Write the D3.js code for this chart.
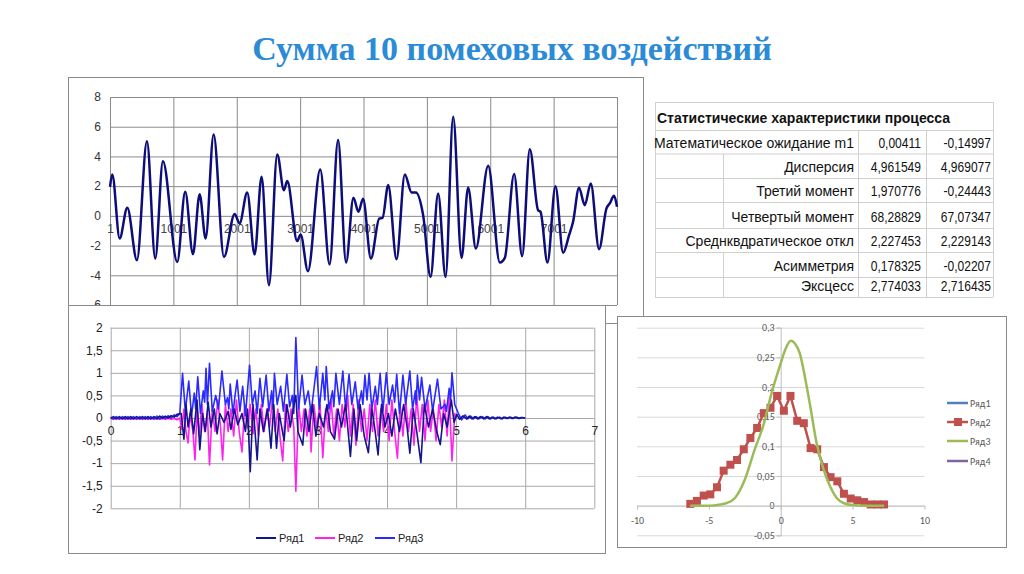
<!DOCTYPE html>
<html>
<head>
<meta charset="utf-8">
<script src="https://cdn.jsdelivr.net/npm/d3@7"></script>
<style>
body { margin: 0; background: #fff; }
svg { display: block; }
</style>
</head>
<body>
<svg id="chart" width="1024" height="574"></svg>
<script>
// ---- данные ----
const title = 'Сумма 10 помеховых воздействий';

// верхний график: суммарный процесс (экстремумы)
const topX = [1, 37, 153, 274, 426, 584, 715, 836, 1062, 1188, 1310, 1415, 1510, 1636, 1799, 1968, 2046, 2166, 2283, 2393,
  2509, 2640, 2745, 2798, 2955, 3009, 3124, 3318, 3466, 3600, 3726, 3842, 3921, 3994, 4118, 4249, 4302, 4391, 4522, 4653,
  4759, 4827, 4942, 5059, 5179, 5296, 5416, 5548, 5652, 5774, 5968, 6152, 6231, 6378, 6504, 6625, 6756, 6794, 6904, 7030,
  7151, 7245, 7308, 7402, 7492, 7587, 7718, 7835, 7887, 7955, 8001];
const topY = [1.95, 2.79, -1.52, 0.54, -2.98, 5.03, -2.87, 3.68, -3.10, 1.62, -2.58, 1.46, -1.52, 5.48, -2.76, 0.13, -0.51, 1.58, -2.60, 2.63,
  -4.67, 4.13, 1.73, 2.34, -1.70, -1.25, -3.72, 3.12, -3.27, 5.10, -3.14, 1.22, 0.27, 1.15, -2.87, -0.18, -0.13, 2.07, -2.92, 2.79,
  1.58, 1.58, 0.05, -4.11, 1.51, -4.11, 6.67, -2.83, 1.91, -2.20, 3.37, -3.14, -2.83, 2.81, -2.71, 4.49, 0.38, 0.27, -3.14, 2.0,
  -2.49, -1.30, -0.40, 1.89, 0.72, 2.18, -2.24, 0.50, 0.84, 1.35, 0.61];
const topXTicks = [1, 1001, 2001, 3001, 4001, 5001, 6001, 7001];
const topYTicks = [-6, -4, -2, 0, 2, 4, 6, 8];

// таблица
const tableTitle = 'Статистические характеристики процесса';
const tableLabels = ['Математическое ожидание m1', 'Дисперсия', 'Третий момент', 'Четвертый момент',
  'Среднквдратическое откл', 'Асимметрия', 'Эксцесс'];
const tableCol1 = ['0,00411', '4,961549', '1,970776', '68,28829', '2,227453', '0,178325', '2,774033'];
const tableCol2 = ['-0,14997', '4,969077', '-0,24443', '67,07347', '2,229143', '-0,02207', '2,716435'];

// нижний левый график
const blNames = ['Ряд1', 'Ряд2', 'Ряд3'];
const blColors = ['#14148c', '#ff22ee', '#2a2aff'];
const r1Pts = [[0,-0.01],[0.04,0.03],[0.08,-0.02],[0.125,0.03],[0.17,-0.02],[0.21,0.03],[0.25,-0.02],[0.29,0.03],[0.33,-0.02],[0.375,0.03],
  [0.42,-0.02],[0.46,0.03],[0.5,-0.02],[0.54,0.03],[0.58,-0.02],[0.625,0.03],[0.67,-0.02],[0.71,0.04],[0.75,-0.01],[0.79,0.04],
  [0.83,0],[0.875,0.05],[0.92,0.02],[0.96,0.08],[1.02,0.1],[1.06,-0.47],[1.09,0.3],[1.12,-0.2],[1.16,0.2],[1.2,-0.35],
  [1.25,0.4],[1.29,-0.7],[1.33,0.1],[1.37,-0.3],[1.41,0.35],[1.45,-0.2],[1.5,0.2],[1.54,-0.35],[1.58,0.1],[1.64,-0.1],
  [1.7,0.15],[1.74,-0.25],[1.79,0.2],[1.84,-0.15],[1.9,0.1],[1.95,-0.3],[1.98,0.2],[2.02,-1.19],[2.06,0.3],[2.12,-0.93],
  [2.16,0.2],[2.21,-0.3],[2.27,0.2],[2.32,-0.67],[2.36,0.3],[2.4,-0.67],[2.44,0.1],[2.51,-0.5],[2.55,0.3],[2.6,-0.2],
  [2.64,0.2],[2.68,0.5],[2.71,-0.3],[2.78,-0.6],[2.82,0.2],[2.87,-0.3],[2.92,0.3],[2.97,-0.4],[3.02,0.1],[3.08,-0.2],
  [3.13,0.3],[3.18,-0.3],[3.24,-0.47],[3.29,0.2],[3.34,-0.2],[3.4,0.3],[3.47,-0.85],[3.52,0.2],[3.56,-0.5],[3.61,0.3],
  [3.67,-0.4],[3.73,-0.77],[3.78,0.2],[3.82,-0.2],[3.87,-0.82],[3.92,0.3],[3.97,-0.2],[4.02,0.1],[4.07,-0.4],[4.12,0.2],
  [4.18,-0.3],[4.24,0.3],[4.29,-0.2],[4.33,-0.78],[4.38,0.2],[4.43,-0.3],[4.49,-0.99],[4.54,0.3],[4.6,-0.2],[4.66,0.2],
  [4.72,-0.3],[4.77,-0.59],[4.82,0.1],[4.87,-0.2],[4.93,0.4],[4.97,-0.1],[5.01,0.08],[5.05,-0.03],[5.1,0.05],[5.15,-0.02],
  [5.19,0.04],[5.23,-0.02],[5.27,0.03],[5.31,-0.02],[5.35,0.03],[5.4,-0.02],[5.44,0.03],[5.48,-0.02],[5.52,0.02],[5.56,-0.02],
  [5.6,0.02],[5.65,-0.02],[5.69,0.02],[5.73,-0.01],[5.77,0.02],[5.81,-0.01],[5.85,0.02],[5.9,-0.01],[5.94,0.01],[6.0,0]];
const r2Pts = [[0,-0.01],[0.04,-0.03],[0.08,-0.01],[0.125,-0.03],[0.17,-0.01],[0.21,-0.03],[0.25,-0.01],[0.29,-0.03],[0.33,-0.01],[0.375,-0.03],
  [0.42,-0.01],[0.46,-0.03],[0.5,-0.01],[0.54,-0.03],[0.58,-0.01],[0.625,-0.03],[0.67,-0.01],[0.71,-0.03],[0.75,-0.01],[0.79,-0.03],
  [0.83,-0.01],[0.875,-0.03],[0.92,-0.01],[0.96,-0.04],[1.0,0],[1.03,-0.25],[1.06,0.2],[1.09,-0.3],[1.12,-0.55],[1.15,0.1],
  [1.19,-0.3],[1.22,-0.93],[1.25,0.2],[1.28,-0.4],[1.32,0.3],[1.36,-0.3],[1.4,0.1],[1.43,-1.04],[1.47,0.2],[1.51,-0.3],
  [1.55,0.4],[1.59,-0.2],[1.62,-0.93],[1.66,0.3],[1.7,-0.3],[1.74,0.2],[1.78,-0.4],[1.82,0.4],[1.86,-0.3],[1.9,-0.75],
  [1.94,0.3],[1.98,-0.2],[2.02,0.3],[2.06,-0.35],[2.1,0.2],[2.14,-0.4],[2.18,0.3],[2.22,-0.3],[2.26,0.2],[2.3,-0.2],
  [2.34,0.4],[2.38,-0.3],[2.42,0.2],[2.45,-0.4],[2.49,-0.95],[2.53,0.3],[2.57,-0.3],[2.61,0.2],[2.65,-0.2],[2.68,-1.62],
  [2.72,0.3],[2.76,-0.3],[2.8,0.2],[2.84,-0.4],[2.88,0.2],[2.9,-0.75],[2.94,0.3],[2.98,-0.2],[3.03,0.3],[3.07,-0.88],
  [3.11,0.2],[3.15,-0.3],[3.19,0.4],[3.23,-0.4],[3.27,0.2],[3.31,-0.5],[3.35,0.3],[3.39,-0.2],[3.43,0.5],[3.47,-0.4],
  [3.51,0.3],[3.55,-0.6],[3.59,0.4],[3.63,-0.3],[3.67,0.2],[3.71,-0.5],[3.75,0.3],[3.79,-0.3],[3.83,0.4],[3.87,-0.4],
  [3.91,0.2],[3.95,-0.3],[3.99,0.3],[4.03,-0.5],[4.07,0.4],[4.11,-0.3],[4.15,-0.89],[4.19,0.3],[4.23,-0.4],[4.27,0.4],
  [4.31,-0.3],[4.35,0.2],[4.39,-0.6],[4.43,0.5],[4.47,-0.3],[4.51,0.3],[4.55,-0.5],[4.59,0.4],[4.63,-0.3],[4.67,0.2],
  [4.71,-0.5],[4.75,0.3],[4.79,-0.2],[4.83,0.4],[4.87,-0.4],[4.9,0.5],[4.94,-0.95],[4.98,0.1],[5.0,0]];
const r3Pts = [[0,0.02],[0.04,-0.02],[0.08,0.03],[0.125,-0.02],[0.17,0.03],[0.21,-0.02],[0.25,0.03],[0.29,-0.02],[0.33,0.03],[0.375,-0.02],
  [0.42,0.03],[0.46,-0.02],[0.5,0.03],[0.54,-0.02],[0.58,0.03],[0.625,-0.02],[0.67,0.04],[0.71,-0.02],[0.75,0.04],[0.79,-0.01],
  [0.83,0.05],[0.875,0],[0.92,0.07],[0.96,0.03],[1.0,0.1],[1.04,0.99],[1.08,0.15],[1.13,0.82],[1.17,0.05],[1.21,0.55],
  [1.23,0.2],[1.26,0.91],[1.3,0.1],[1.34,0.6],[1.36,0.35],[1.38,1.1],[1.4,0.3],[1.43,1.21],[1.47,0.15],[1.52,0.5],
  [1.56,0.2],[1.61,1.04],[1.66,0.3],[1.69,0.45],[1.71,0.2],[1.73,0.75],[1.77,0.1],[1.8,0.5],[1.83,0.84],[1.87,0.15],
  [1.91,0.7],[1.95,0.05],[2.01,1.17],[2.05,0.3],[2.09,0.6],[2.12,0.1],[2.16,0.88],[2.2,0.25],[2.25,0.95],[2.29,0.15],
  [2.33,0.6],[2.35,0.2],[2.37,0.99],[2.41,0.3],[2.46,0.7],[2.5,0.15],[2.55,0.97],[2.59,0.25],[2.63,0.5],[2.65,0.1],
  [2.68,1.78],[2.72,0.2],[2.77,0.95],[2.81,0.3],[2.86,0.6],[2.9,0.1],[2.98,1.14],[3.02,0.2],[3.07,0.99],[3.1,0.4],
  [3.12,1.14],[3.16,0.2],[3.21,0.6],[3.23,0.25],[3.26,0.99],[3.31,0.3],[3.36,1.04],[3.4,0.2],[3.45,0.97],[3.49,0.3],
  [3.54,0.8],[3.58,0.2],[3.63,0.6],[3.65,0.3],[3.68,0.95],[3.71,0.4],[3.74,0.99],[3.78,0.2],[3.83,0.7],[3.86,0.3],
  [3.9,0.99],[3.94,0.15],[3.99,1.0],[4.03,0.3],[4.08,0.73],[4.11,0.35],[4.14,0.97],[4.18,0.1],[4.23,0.95],[4.27,0.3],
  [4.33,1.04],[4.37,0.2],[4.41,0.6],[4.42,0.3],[4.44,0.95],[4.47,0.4],[4.5,0.9],[4.55,0.2],[4.62,0.73],[4.66,0.15],
  [4.73,0.86],[4.78,0.2],[4.84,0.3],[4.86,0.15],[4.9,0.66],[4.92,0.4],[4.94,1.0],[4.98,0.3],[5.03,0.11],[5.08,-0.04],
  [5.13,0.07],[5.17,-0.02],[5.21,0.04],[5.25,-0.02],[5.29,0.03],[5.33,-0.02],[5.38,0.03],[5.42,-0.02],[5.46,0.03],[5.5,-0.02],
  [5.54,0.02],[5.58,-0.02],[5.63,0.02],[5.67,-0.02],[5.71,0.02],[5.75,-0.01],[5.79,0.02],[5.83,-0.01],[5.88,0.02],[5.92,-0.01],
  [5.96,0.01],[6.0,0]];
const blXTicks = [0, 1, 2, 3, 4, 5, 6, 7];
const blYTicks = [-2, -1.5, -1, -0.5, 0, 0.5, 1, 1.5, 2];

// нижний правый график: гистограмма и нормальная кривая
const histX = [-6.29, -5.83, -5.36, -4.90, -4.43, -3.97, -3.50, -3.04, -2.57, -2.11, -1.64, -1.18, -0.71, -0.25, 0.22,
  0.68, 1.15, 1.61, 2.08, 2.54, 3.01, 3.47, 3.94, 4.40, 4.87, 5.33, 5.80, 6.26, 6.73, 7.19];
const histY = [0.003, 0.008, 0.017, 0.019, 0.031, 0.059, 0.069, 0.077, 0.095, 0.114, 0.131, 0.156, 0.165, 0.185, 0.160,
  0.185, 0.143, 0.139, 0.097, 0.095, 0.065, 0.048, 0.041, 0.020, 0.012, 0.009, 0.006, 0.002, 0.002, 0.002];
const normX = [-6.3, -5, -4.2, -3.8, -3.18, -2.48, -1.79, -1.21, -0.63, 0, 0.35, 0.7, 1.0, 1.34, 1.7, 2.04, 2.5, 2.97,
  3.45, 3.9, 4.4, 5, 6, 7.2];
const normY = [0, 0, 0.002, 0.004, 0.013, 0.045, 0.096, 0.135, 0.19, 0.24, 0.265, 0.278, 0.273, 0.256, 0.215, 0.17,
  0.105, 0.062, 0.032, 0.013, 0.004, 0.001, 0, 0];
const brXTicks = [-10, -5, 0, 5, 10];
const brYTicks = [-0.05, 0, 0.05, 0.1, 0.15, 0.2, 0.25, 0.3];
const brNames = ['Ряд1', 'Ряд2', 'Ряд3', 'Ряд4'];
const brColors = ['#4f81bd', '#c0504d', '#9bbb59', '#8064a2'];

const comma = d => String(d).replace('.', ',');
const svg = d3.select('#chart');
const arial = 'Liberation Sans, Arial, sans-serif';

// ---- заголовок ----
svg.append('text')
  .attr('x', 512).attr('y', 60)
  .attr('text-anchor', 'middle')
  .attr('font-family', 'Liberation Serif, Times New Roman, serif')
  .attr('font-weight', 'bold')
  .attr('font-size', 34)
  .attr('fill', '#2c8bd6')
  .text(title);

// ---- верхний график ----
const gTop = svg.append('g');
gTop.append('rect')
  .attr('x', 68.5).attr('y', 77.5).attr('width', 575).attr('height', 246)
  .attr('fill', '#fff').attr('stroke', '#8a8a8a');

const tx = d3.scaleLinear().domain([1, 8001]).range([110, 617]);
const ty = d3.scaleLinear().domain([-6, 8]).range([305, 97]);

const topGridY = gTop.append('g')
  .attr('transform', 'translate(110,0)')
  .call(d3.axisLeft(ty).tickValues(topYTicks).tickSize(-(617 - 110)).tickPadding(9).tickFormat(comma));
const topGridX = gTop.append('g')
  .attr('transform', `translate(0,${ty(-6)})`)
  .call(d3.axisBottom(tx).tickValues(topXTicks.concat([8001])).tickSize(-(ty(-6) - ty(8))).tickFormat(''));
[topGridY, topGridX].forEach(a => {
  a.select('.domain').remove();
  a.selectAll('line').attr('stroke', '#8a8a8a');
});
topGridY.selectAll('text').attr('font-family', arial).attr('font-size', 12).attr('fill', '#333');

const topLabels = gTop.append('g')
  .attr('transform', `translate(0,${ty(0)})`)
  .call(d3.axisBottom(tx).tickValues(topXTicks).tickSize(0).tickPadding(9).tickFormat(d => d));
topLabels.select('.domain').remove();
topLabels.selectAll('text').attr('font-family', arial).attr('font-size', 12).attr('fill', '#444');

gTop.append('path')
  .datum(topY)
  .attr('fill', 'none')
  .attr('stroke', '#0c0c7a')
  .attr('stroke-width', 2.5)
  .attr('d', d3.line().x((d, i) => tx(topX[i])).y(d => ty(d)).curve(d3.curveMonotoneX));

// ---- таблица ----
const gTab = svg.append('g').attr('font-family', arial).attr('font-size', 14).attr('fill', '#111');
const colX = [655, 723, 858, 926, 993];
const rowY = [102, 130, 153.5, 178, 202, 228, 252, 277, 297];
const lineCol = '#d0d0d0';

gTab.selectAll('.hl').data(rowY).join('line')
  .attr('x1', colX[0]).attr('x2', colX[4])
  .attr('y1', d => d + 0.5).attr('y2', d => d + 0.5)
  .attr('stroke', lineCol);
gTab.selectAll('.ol').data([colX[0], colX[4]]).join('line')
  .attr('x1', d => d + 0.5).attr('x2', d => d + 0.5)
  .attr('y1', rowY[0]).attr('y2', rowY[8])
  .attr('stroke', lineCol);

gTab.append('text')
  .attr('x', 657).attr('y', 123)
  .attr('font-weight', 'bold')
  .attr('font-size', 14)
  .text(tableTitle);

tableLabels.forEach((lab, i) => {
  const y0 = rowY[i + 1], y1 = rowY[i + 2];
  const base = y1 - 6;
  const t = gTab.append('text').attr('x', 854).attr('y', base).attr('text-anchor', 'end').text(lab);
  const w = t.node().getComputedTextLength();
  const xs = [colX[2], colX[3]];
  if (854 - w > colX[1] + 2) xs.push(colX[1]);
  xs.forEach(x => {
    gTab.insert('line', 'text')
      .attr('x1', x + 0.5).attr('x2', x + 0.5)
      .attr('y1', y0).attr('y2', y1)
      .attr('stroke', lineCol);
  });
  // числа в исходнике заметно уже — слегка сжимаем по горизонтали
  gTab.append('text')
    .attr('transform', `translate(921,${base}) scale(0.86,1)`)
    .attr('text-anchor', 'end').text(tableCol1[i]);
  gTab.append('text')
    .attr('transform', `translate(991,${base}) scale(0.86,1)`)
    .attr('text-anchor', 'end').text(tableCol2[i]);
});

// ---- нижний левый график ----
const gBL = svg.append('g');
gBL.append('rect')
  .attr('x', 68.5).attr('y', 305.5).attr('width', 537).attr('height', 248)
  .attr('fill', '#fff').attr('stroke', '#8a8a8a');

const bx = d3.scaleLinear().domain([0, 7]).range([110.7, 594.3]);
const by = d3.scaleLinear().domain([-2, 2]).range([508.3, 327.7]);

const blGridY = gBL.append('g')
  .attr('transform', `translate(${bx(0)},0)`)
  .call(d3.axisLeft(by).tickValues(blYTicks).tickSize(-(bx(7) - bx(0))).tickPadding(8).tickFormat(comma));
const blGridX = gBL.append('g')
  .attr('transform', `translate(0,${by(-2)})`)
  .call(d3.axisBottom(bx).tickValues(blXTicks).tickSize(-(by(-2) - by(2))).tickFormat(''));
[blGridY, blGridX].forEach(a => {
  a.select('.domain').remove();
  a.selectAll('line').attr('stroke', '#a8a8a8');
});
blGridY.selectAll('text').attr('font-family', arial).attr('font-size', 12).attr('fill', '#222');

const blLabels = gBL.append('g')
  .attr('transform', `translate(0,${by(0)})`)
  .call(d3.axisBottom(bx).tickValues(blXTicks).tickSize(0).tickPadding(8).tickFormat(d => d));
blLabels.select('.domain').remove();
blLabels.selectAll('text').attr('font-family', arial).attr('font-size', 12).attr('fill', '#222');

const blLine = d3.line().x(d => bx(d[0])).y(d => by(d[1]));
[r2Pts, r3Pts, r1Pts].forEach((pts, k) => {
  const idx = [1, 2, 0][k];
  gBL.append('path')
    .datum(pts)
    .attr('fill', 'none')
    .attr('stroke', blColors[idx])
    .attr('stroke-width', 1.6)
    .attr('stroke-linejoin', 'round')
    .attr('d', blLine);
});

const blLegX = [256, 315, 375];
blNames.forEach((n, i) => {
  gBL.append('line')
    .attr('x1', blLegX[i]).attr('x2', blLegX[i] + 20)
    .attr('y1', 538).attr('y2', 538)
    .attr('stroke', blColors[i]).attr('stroke-width', 2);
  gBL.append('text')
    .attr('x', blLegX[i] + 23).attr('y', 542)
    .attr('font-family', arial).attr('font-size', 11).attr('fill', '#222')
    .text(n);
});

// ---- нижний правый график ----
const gBR = svg.append('g');
gBR.append('rect')
  .attr('x', 617.5).attr('y', 316.5).attr('width', 389).attr('height', 231)
  .attr('fill', '#fff').attr('stroke', '#8a8a8a');

const rx = d3.scaleLinear().domain([-10, 10]).range([637, 924.4]);
const ry = d3.scaleLinear().domain([-0.05, 0.3]).range([535.3, 327.7]);
const calibri = 'Carlito, Noto Sans, sans-serif';

const brGrid = gBR.append('g')
  .attr('transform', `translate(${rx(-10)},0)`)
  .call(d3.axisLeft(ry).tickValues(brYTicks).tickSize(-(rx(10) - rx(-10))).tickFormat(''));
brGrid.select('.domain').remove();
brGrid.selectAll('line').attr('stroke', '#d9d9d9');

const brYAxis = gBR.append('g')
  .attr('transform', `translate(${rx(0)},0)`)
  .call(d3.axisLeft(ry).tickValues(brYTicks).tickSize(4).tickPadding(2).tickFormat(comma));
brYAxis.select('.domain').attr('stroke', '#bfbfbf');
brYAxis.selectAll('line').attr('stroke', '#bfbfbf');
brYAxis.selectAll('text').attr('font-family', calibri).attr('font-size', 10).attr('fill', '#595959');

const brXAxis = gBR.append('g')
  .attr('transform', `translate(0,${ry(0)})`)
  .call(d3.axisBottom(rx).tickValues(brXTicks).tickSize(4).tickSizeOuter(0).tickPadding(7).tickFormat(d => d));
brXAxis.select('.domain').attr('stroke', '#bfbfbf');
brXAxis.selectAll('line').attr('stroke', '#bfbfbf');
brXAxis.selectAll('text').attr('font-family', calibri).attr('font-size', 10).attr('fill', '#595959');

gBR.append('path')
  .datum(histY)
  .attr('fill', 'none')
  .attr('stroke', brColors[1])
  .attr('stroke-width', 2.5)
  .attr('d', d3.line().x((d, i) => rx(histX[i])).y(d => ry(d)));
gBR.selectAll('.sq').data(histY).join('rect')
  .attr('x', (d, i) => rx(histX[i]) - 4)
  .attr('y', d => ry(d) - 4)
  .attr('width', 8).attr('height', 8)
  .attr('fill', brColors[1]);

gBR.append('path')
  .datum(normY)
  .attr('fill', 'none')
  .attr('stroke', brColors[2])
  .attr('stroke-width', 2.5)
  .attr('d', d3.line().x((d, i) => rx(normX[i])).y(d => ry(d)).curve(d3.curveMonotoneX));

const brLegY = [403, 422, 441, 461];
brNames.forEach((n, i) => {
  gBR.append('line')
    .attr('x1', 947).attr('x2', 968)
    .attr('y1', brLegY[i]).attr('y2', brLegY[i])
    .attr('stroke', brColors[i]).attr('stroke-width', 2.5);
  if (i === 1) {
    gBR.append('rect')
      .attr('x', 954).attr('y', brLegY[i] - 4)
      .attr('width', 8).attr('height', 8)
      .attr('fill', brColors[i]);
  }
  gBR.append('text')
    .attr('x', 970).attr('y', brLegY[i] + 4)
    .attr('font-family', calibri).attr('font-size', 10).attr('fill', '#595959')
    .text(n);
});
</script>
</body>
</html>
